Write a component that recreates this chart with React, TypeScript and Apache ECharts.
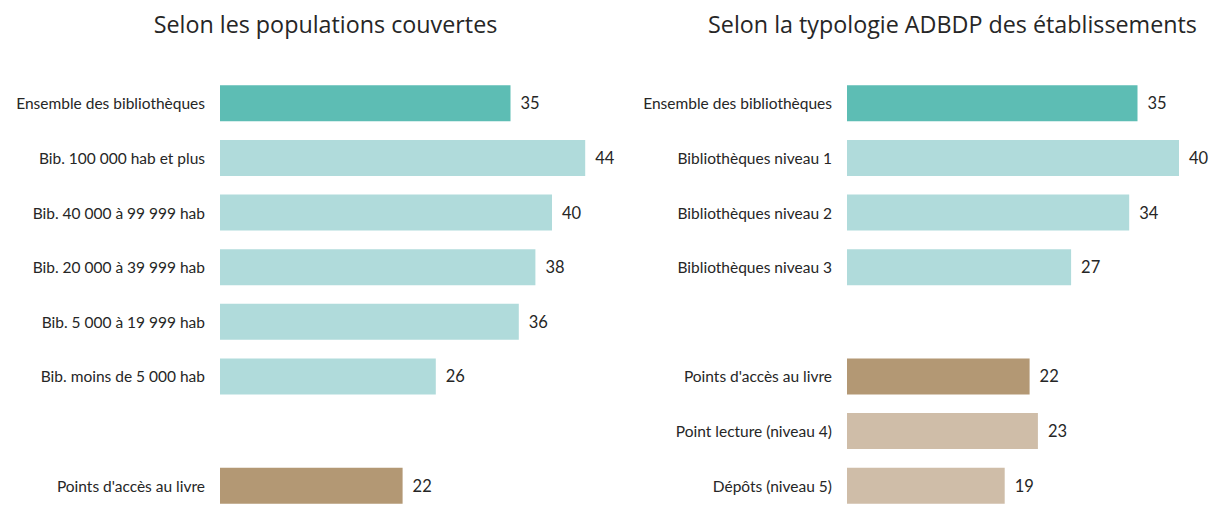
import React, { useEffect, useRef } from "react";
import * as echarts from "echarts";

const leftTitle = "Selon les populations couvertes";
const rightTitle = "Selon la typologie ADBDP des établissements";

const leftCategories = [
  "Ensemble des bibliothèques",
  "Bib. 100 000 hab et plus",
  "Bib. 40 000 à 99 999 hab",
  "Bib. 20 000 à 39 999 hab",
  "Bib. 5 000 à 19 999 hab",
  "Bib. moins de 5 000 hab",
  "",
  "Points d'accès au livre",
];
const leftValues: (number | null)[] = [35, 44, 40, 38, 36, 26, null, 22];
const leftGroups = ["total", "bib", "bib", "bib", "bib", "bib", "none", "pal"];

const rightCategories = [
  "Ensemble des bibliothèques",
  "Bibliothèques niveau 1",
  "Bibliothèques niveau 2",
  "Bibliothèques niveau 3",
  "",
  "Points d'accès au livre",
  "Point lecture (niveau 4)",
  "Dépôts (niveau 5)",
];
const rightValues: (number | null)[] = [35, 40, 34, 27, null, 22, 23, 19];
const rightGroups = ["total", "bib", "bib", "bib", "none", "pal", "sub", "sub"];

const groupColors: Record<string, string> = {
  total: "#5dbdb4",
  bib: "#b0dbdb",
  pal: "#b39874",
  sub: "#cfbda8",
  none: "transparent",
};

const LABEL_FONT = "Lato";
const TITLE_FONT = "Open Sans";
const TEXT_COLOR = "#262626";

function makeData(values: (number | null)[], groups: string[]) {
  return values.map((v, i) => ({
    value: v,
    itemStyle: { color: groupColors[groups[i]] },
  }));
}

export default function App() {
  const ref = useRef<HTMLDivElement>(null);
  useEffect(() => {
    if (!ref.current) return;
    const chart = echarts.init(ref.current, undefined, { renderer: "svg" });
    const gridTop = 76;
    const gridHeight = 437;
    const pxPerUnit = 8.3;
    const yAxisCommon = {
      type: "category" as const,
      inverse: true,
      axisLine: { show: false },
      axisTick: { show: false },
      axisLabel: {
        fontFamily: LABEL_FONT,
        fontSize: 15.5,
        color: TEXT_COLOR,
        margin: 15,
      },
    };
    const xAxisCommon = {
      type: "value" as const,
      min: 0,
      show: false,
      splitLine: { show: false },
    };
    const seriesCommon = {
      type: "bar" as const,
      barCategoryGap: "34%",
      clip: false,
      label: {
        show: true,
        position: "right" as const,
        distance: 10,
        fontFamily: LABEL_FONT,
        fontSize: 16.5,
        color: TEXT_COLOR,
      },
    };
    const titleStyle = { fontFamily: TITLE_FONT, fontSize: 23.3, fontWeight: "normal" as const, color: TEXT_COLOR };
    chart.setOption({
      animation: false,
      backgroundColor: "#ffffff",
      title: [
        { text: leftTitle, left: 320.5, top: 7, textAlign: "center", textStyle: titleStyle },
        { text: rightTitle, left: 947.5, top: 7, textAlign: "center", textStyle: titleStyle },
      ],
      grid: [
        { left: 220, top: gridTop, width: 50 * pxPerUnit, height: gridHeight },
        { left: 847, top: gridTop, width: 40 * pxPerUnit, height: gridHeight },
      ],
      xAxis: [
        { ...xAxisCommon, gridIndex: 0, max: 50 },
        { ...xAxisCommon, gridIndex: 1, max: 40 },
      ],
      yAxis: [
        { ...yAxisCommon, gridIndex: 0, data: leftCategories },
        { ...yAxisCommon, gridIndex: 1, data: rightCategories },
      ],
      series: [
        { ...seriesCommon, xAxisIndex: 0, yAxisIndex: 0, data: makeData(leftValues, leftGroups) },
        { ...seriesCommon, xAxisIndex: 1, yAxisIndex: 1, data: makeData(rightValues, rightGroups) },
      ],
    });
    return () => chart.dispose();
  }, []);
  return (
    <div
      ref={ref}
      style={{ position: "absolute", left: 0, top: 0, width: 1211, height: 524 }}
    />
  );
}
